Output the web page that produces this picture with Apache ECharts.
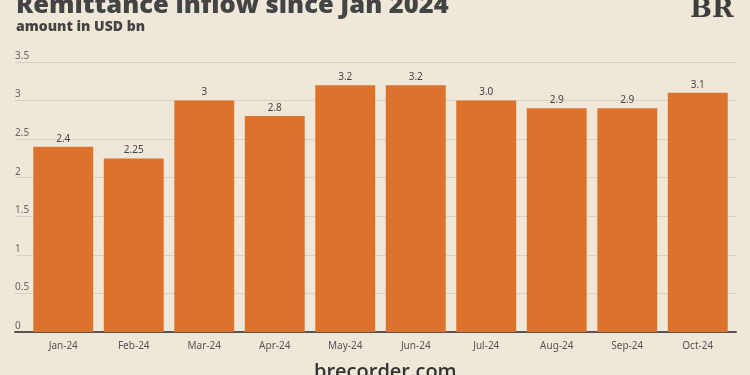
<!DOCTYPE html>
<html><head><meta charset="utf-8">
<script src="https://cdn.jsdelivr.net/npm/echarts@6/dist/echarts.min.js"></script>
<style>html,body{margin:0;padding:0;background:#efe8d8}#c{width:750px;height:375px}</style>
</head><body><div id="c"></div>
<script>
const categories = ['Jan-24','Feb-24','Mar-24','Apr-24','May-24','Jun-24','Jul-24','Aug-24','Sep-24','Oct-24'];
const values = [2.4, 2.25, 3, 2.8, 3.2, 3.2, 3.0, 2.9, 2.9, 3.1];
const valueLabels = ['2.4','2.25','3','2.8','3.2','3.2','3.0','2.9','2.9','3.1'];
const yTicks = [0, 0.5, 1, 1.5, 2, 2.5, 3, 3.5];

const fmtY = v => String(yTicks.find(t => Math.abs(t - v) < 1e-9) ?? v);
const chart = echarts.init(document.getElementById('c'));
chart.setOption({
  backgroundColor: '#efe8d8',
  animation: false,
  grid: [
    {left: 28, right: 17, top: 62, bottom: 43, containLabel: false, outerBoundsMode: 'none'},
    {left: 15, right: 14, top: 62, bottom: 43, containLabel: false, outerBoundsMode: 'none'}
  ],
  xAxis: [{
    type: 'category', data: categories, gridIndex: 0,
    axisLine: {show: false},
    axisTick: {show: false},
    axisLabel: {color: '#555', fontSize: 10, fontFamily: 'Noto Sans', margin: 9}
  }, {
    type: 'value', gridIndex: 1, min: 0, max: 1, show: true,
    axisLine: {show: true, onZero: false, lineStyle: {color: '#555', width: 2}},
    axisTick: {show: false}, axisLabel: {show: false}, splitLine: {show: false}
  }],
  yAxis: [{
    type: 'value', gridIndex: 0, min: 0, max: 3.5, interval: 0.5,
    axisLabel: {show: false}, splitLine: {show: false}, axisLine: {show: false}, axisTick: {show: false}
  }, {
    type: 'value', gridIndex: 1, min: 0, max: 3.5, interval: 0.5,
    axisLine: {show: false}, axisTick: {show: false},
    axisLabel: {color: '#666', fontSize: 10, fontFamily: 'Noto Sans', align: 'left', margin: 0,
      verticalAlign: 'bottom', padding: [0, 0, 1, 0], formatter: fmtY},
    splitLine: {lineStyle: {color: '#d9d2c2', width: 1}}
  }],
  series: [{
    type: 'bar', data: values, barCategoryGap: '15%', xAxisIndex: 0, yAxisIndex: 0, z: 3,
    itemStyle: {color: '#dc722b'},
    label: {show: true, position: 'top', color: '#444', fontSize: 10, fontFamily: 'Noto Sans', distance: 3,
      formatter: p => valueLabels[p.dataIndex]}
  }],
  graphic: [
    {type: 'text', left: 16, top: -7, style: {text: 'Remittance inflow since Jan 2024', font: '900 25.5px "Open Sans"', fill: '#444'}},
    {type: 'text', left: 16, top: 20, style: {text: 'amount in USD bn', font: '800 14px "Open Sans"', fill: '#444'}},
    {type: 'text', left: 690, top: -3, style: {text: 'BR', font: 'bold 26px "DejaVu Serif"', fill: '#3d3d3d'}},
    {type: 'text', left: 314, top: 362, style: {text: 'brecorder.com', font: '600 20px "Open Sans"', fill: '#333'}}
  ]
});
</script></body></html>
